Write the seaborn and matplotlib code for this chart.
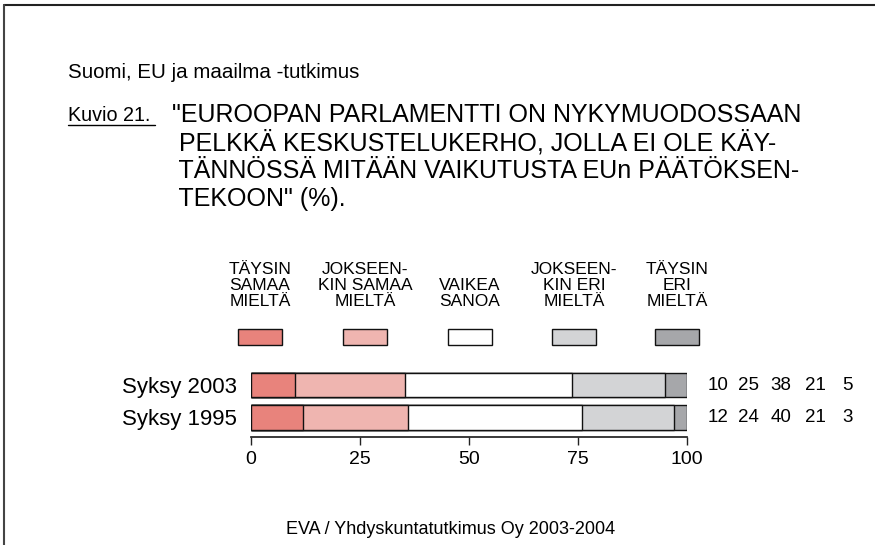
import numpy as np
import pandas as pd
import matplotlib
matplotlib.use("Agg")
import matplotlib.pyplot as plt
import seaborn as sns
from matplotlib.patches import Rectangle

# data
rows = ["Syksy 2003", "Syksy 1995"]
categories = ["TÄYSIN\nSAMAA\nMIELTÄ", "JOKSEEN-\nKIN SAMAA\nMIELTÄ", "VAIKEA\nSANOA",
              "JOKSEEN-\nKIN ERI\nMIELTÄ", "TÄYSIN\nERI\nMIELTÄ"]
vals_2003 = [10, 25, 38, 21, 5]
vals_1995 = [12, 24, 40, 21, 3]
colors = ["#E8837C", "#EFB5B0", "#FFFFFF", "#D3D4D6", "#A6A7AA"]
xticks = [0, 25, 50, 75, 100]

sns.set_theme(style="white")
plt.rcParams["font.family"] = ["Liberation Sans", "DejaVu Sans"]
plt.rcParams["text.color"] = "black"
plt.rcParams["xtick.color"] = "black"
plt.rcParams["ytick.color"] = "black"

df = pd.DataFrame([vals_2003, vals_1995], index=rows, columns=range(5))
pct = df.div(df.sum(axis=1), axis=0) * 100
cum = pct.cumsum(axis=1)

fig = plt.figure(figsize=(8.75, 5.45), dpi=100)
ax = fig.add_axes([251 / 875, 1 - 437 / 545, 436 / 875, 68.25 / 545])

# stacked bars: widest cumulative first, then the shorter ones on top
for i in reversed(range(5)):
    d = pd.DataFrame({"row": rows, "val": cum[i].values})
    sns.barplot(data=d, x="val", y="row", color=colors[i], edgecolor="#111111",
                linewidth=1.0, width=0.74, saturation=1, ax=ax, orient="h")

ax.set_xlim(0, 100)
ax.set_ylim(1.6, -0.5)
ax.set_xlabel("")
ax.set_ylabel("")
for s in ["top", "right", "left"]:
    ax.spines[s].set_visible(False)
ax.spines["bottom"].set_bounds(0, 100)
ax.spines["bottom"].set_color("#222222")
ax.set_xticks(xticks)
ax.set_xticklabels([str(t) for t in xticks], fontsize=14)
ax.tick_params(axis="x", bottom=True, length=6, width=1, color="#222222", pad=4)
ax.tick_params(axis="y", left=False, length=0, pad=10)
for lab in ax.get_yticklabels():
    lab.set_fontsize(16)

# numbers on the right
num_x = [1.071, 1.142, 1.216, 1.294, 1.369]
for r, vals in enumerate([vals_2003, vals_1995]):
    for j, v in enumerate(vals):
        ax.text(num_x[j], r, str(v), transform=ax.get_yaxis_transform(),
                ha="center", va="center", fontsize=13.5)

# legend above the bars
leg_cx = [260, 365, 470, 574, 677]
for j, lab in enumerate(categories):
    cx = leg_cx[j] / 875
    fig.patches.append(Rectangle((cx - 22 / 875, 1 - 345 / 545), 44 / 875, 16 / 545,
                                 transform=fig.transFigure, facecolor=colors[j],
                                 edgecolor="#111111", linewidth=1.0))
    fig.text(cx, 1 - 309 / 545, lab, ha="center", va="bottom", fontsize=12.5,
             linespacing=1.1)

# titles
fig.text(68 / 875, 1 - 72 / 545, "Suomi, EU ja maailma -tutkimus", fontsize=14.8,
         va="center", ha="left")
fig.text(68 / 875, 1 - 121 / 545, "Kuvio 21.", fontsize=14.2, va="baseline",
         ha="left")
fig.add_artist(plt.Line2D([68 / 875, 155 / 875], [1 - 124.5 / 545, 1 - 124.5 / 545],
                          transform=fig.transFigure, color="black", linewidth=1.0))
title_lines = ['"EUROOPAN PARLAMENTTI ON NYKYMUODOSSAAN',
               ' PELKKÄ KESKUSTELUKERHO, JOLLA EI OLE KÄY-',
               ' TÄNNÖSSÄ MITÄÄN VAIKUTUSTA EUn PÄÄTÖKSEN-',
               ' TEKOON" (%).']
for k, line in enumerate(title_lines):
    fig.text(172 / 875, 1 - (122 + 28 * k) / 545, line, fontsize=18,
             va="baseline", ha="left")

fig.text(451 / 875, 1 - 529 / 545, "EVA / Yhdyskuntatutkimus Oy 2003-2004",
         fontsize=13, ha="center", va="center")

# page border lines (top and left)
fig.add_artist(plt.Line2D([4 / 875, 1], [1 - 5 / 545, 1 - 5 / 545],
                          transform=fig.transFigure, color="#222222", linewidth=1.5))
fig.add_artist(plt.Line2D([4 / 875, 4 / 875], [0, 1 - 5 / 545],
                          transform=fig.transFigure, color="#444444", linewidth=1.5))

fig.savefig("out.png", dpi=100)
